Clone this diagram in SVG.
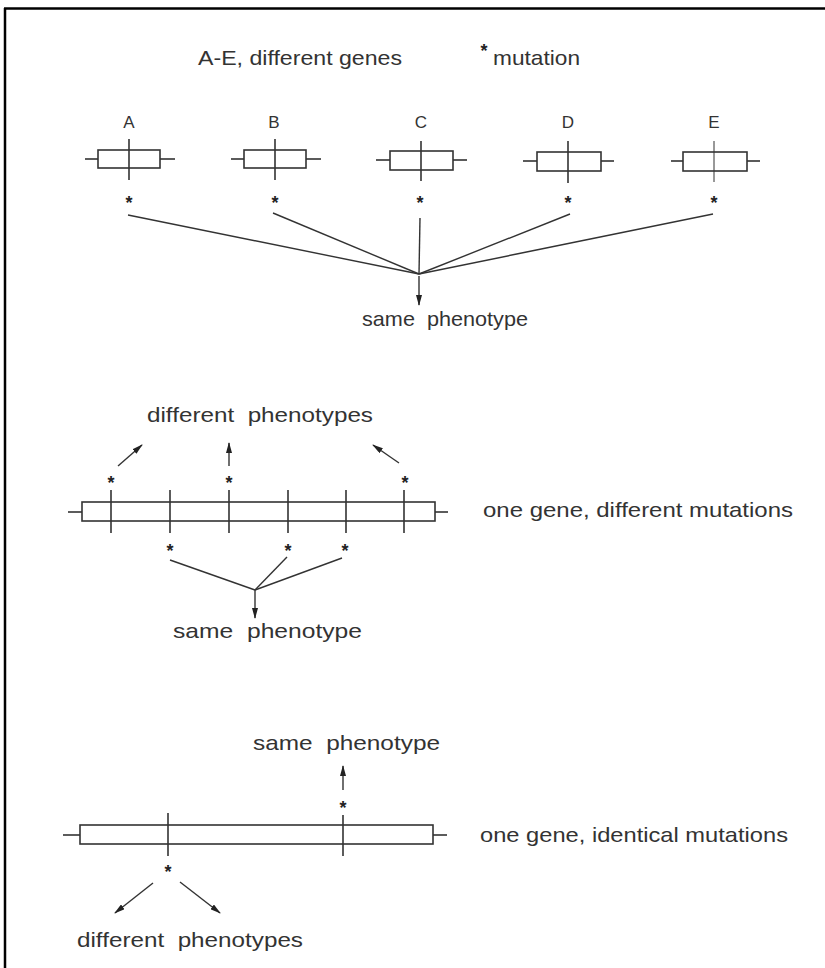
<svg xmlns="http://www.w3.org/2000/svg" width="825" height="968" viewBox="0 0 825 968">
<style>
text{font-family:"Liberation Sans",Arial,sans-serif;fill:#333;white-space:pre}
.t{font-size:21px}
.lab{font-size:17px;text-anchor:middle}
.st{font-size:18px;font-weight:bold;text-anchor:middle;fill:#222}
.g rect,.g line{fill:none;stroke:#333;stroke-width:1.6}
.c line{stroke:#333;stroke-width:1.4}
.a{marker-end:url(#ah)}
.frame{stroke:#000;stroke-width:2.5}
</style>
<defs>
<marker id="ah" markerWidth="11" markerHeight="6" refX="10" refY="3" viewBox="0 0 11 6" orient="auto" markerUnits="userSpaceOnUse">
<path d="M0,0 L11,3 L0,6 z" fill="#222"/>
</marker>
</defs>
<rect width="825" height="968" fill="#fff"/>
<line class="frame" x1="4" y1="8.5" x2="825" y2="8.5"/>
<line class="frame" x1="5" y1="8" x2="5" y2="968"/>

<g id="legend">
<text class="t" x="198" y="65" textLength="204" lengthAdjust="spacingAndGlyphs">A-E, different genes</text>
<text class="st" x="484" y="57">*</text>
<text class="t" x="493" y="65" textLength="87" lengthAdjust="spacingAndGlyphs">mutation</text>
</g>

<g id="geneA" class="g">
<text class="lab" x="129" y="128">A</text>
<rect x="98" y="150" width="62" height="18"/>
<line x1="85" y1="159" x2="98" y2="159"/><line x1="160" y1="159" x2="175" y2="159"/>
<line x1="129" y1="139" x2="129" y2="180"/>
<text class="st" x="129" y="209">*</text>
</g>
<g id="geneB" class="g">
<text class="lab" x="274" y="128">B</text>
<rect x="244" y="150" width="62" height="18"/>
<line x1="231" y1="159" x2="244" y2="159"/><line x1="306" y1="159" x2="321" y2="159"/>
<line x1="275" y1="139" x2="275" y2="180"/>
<text class="st" x="275" y="209">*</text>
</g>
<g id="geneC" class="g">
<text class="lab" x="421" y="128">C</text>
<rect x="390" y="151" width="63" height="19"/>
<line x1="376" y1="160" x2="390" y2="160"/><line x1="453" y1="160" x2="467" y2="160"/>
<line x1="421" y1="141" x2="421" y2="181"/>
<text class="st" x="420" y="209">*</text>
</g>
<g id="geneD" class="g">
<text class="lab" x="568" y="128">D</text>
<rect x="537" y="152" width="64" height="19"/>
<line x1="523" y1="161" x2="537" y2="161"/><line x1="601" y1="161" x2="614" y2="161"/>
<line x1="568" y1="141" x2="568" y2="183"/>
<text class="st" x="568" y="209">*</text>
</g>
<g id="geneE" class="g">
<text class="lab" x="714" y="128">E</text>
<rect x="683" y="152" width="64" height="19"/>
<line x1="671" y1="161" x2="683" y2="161"/><line x1="747" y1="161" x2="760" y2="161"/>
<line x1="714" y1="141" x2="714" y2="182" style="stroke-width:1"/>
<text class="st" x="714" y="209">*</text>
</g>
<g id="samePheno1">
<text class="t" x="362" y="326" textLength="166" lengthAdjust="spacingAndGlyphs" xml:space="preserve">same  phenotype</text>
</g>

<g id="gene2" class="g">
<text class="t" x="147" y="422" textLength="226" lengthAdjust="spacingAndGlyphs" xml:space="preserve">different  phenotypes</text>
<text class="st" x="111" y="489">*</text>
<text class="st" x="229" y="489">*</text>
<text class="st" x="405" y="489">*</text>
<rect x="82" y="502" width="353" height="19"/>
<line x1="68" y1="512" x2="82" y2="512"/><line x1="435" y1="512" x2="448" y2="512"/>
<line x1="111" y1="490" x2="111" y2="533"/>
<line x1="170" y1="490" x2="170" y2="533"/>
<line x1="229" y1="490" x2="229" y2="533"/>
<line x1="288" y1="490" x2="288" y2="533"/>
<line x1="346" y1="490" x2="346" y2="533"/>
<line x1="404" y1="490" x2="404" y2="533"/>
<text class="st" x="170" y="557">*</text>
<text class="st" x="288" y="557">*</text>
<text class="st" x="345" y="557">*</text>
<text class="t" x="173" y="638" textLength="189" lengthAdjust="spacingAndGlyphs" xml:space="preserve">same  phenotype</text>
<text class="t" x="483" y="517" textLength="310" lengthAdjust="spacingAndGlyphs">one gene, different mutations</text>
</g>

<g id="gene3" class="g">
<text class="t" x="253" y="750" textLength="187" lengthAdjust="spacingAndGlyphs" xml:space="preserve">same  phenotype</text>
<text class="st" x="343" y="814">*</text>
<rect x="80" y="825" width="353" height="19"/>
<line x1="63" y1="835" x2="80" y2="835"/><line x1="433" y1="835" x2="447" y2="835"/>
<line x1="168" y1="813" x2="168" y2="856"/>
<line x1="343" y1="815" x2="343" y2="856"/>
<text class="st" x="168" y="878">*</text>
<text class="t" x="77" y="947" textLength="226" lengthAdjust="spacingAndGlyphs" xml:space="preserve">different  phenotypes</text>
<text class="t" x="480" y="842" textLength="308" lengthAdjust="spacingAndGlyphs">one gene, identical mutations</text>
</g>

<g id="connectors" class="c">
<line x1="128" y1="215" x2="419" y2="274"/>
<line x1="273" y1="213" x2="419" y2="274"/>
<line x1="420" y1="218" x2="419" y2="274"/>
<line x1="570" y1="214" x2="419" y2="274"/>
<line x1="713" y1="214" x2="419" y2="274"/>
<line class="a" x1="419" y1="276" x2="419" y2="305"/>
<line class="a" x1="118" y1="466" x2="142" y2="445"/>
<line class="a" x1="229" y1="466" x2="229" y2="443"/>
<line class="a" x1="399" y1="463" x2="373" y2="445"/>
<line x1="170" y1="560" x2="255" y2="590"/>
<line x1="287" y1="557" x2="255" y2="590"/>
<line x1="342" y1="558" x2="255" y2="590"/>
<line class="a" x1="255" y1="590" x2="255" y2="618"/>
<line class="a" x1="343" y1="790" x2="343" y2="766"/>
<line class="a" x1="153" y1="883" x2="115" y2="913"/>
<line class="a" x1="180" y1="882" x2="220" y2="913"/>
</g>
</svg>
